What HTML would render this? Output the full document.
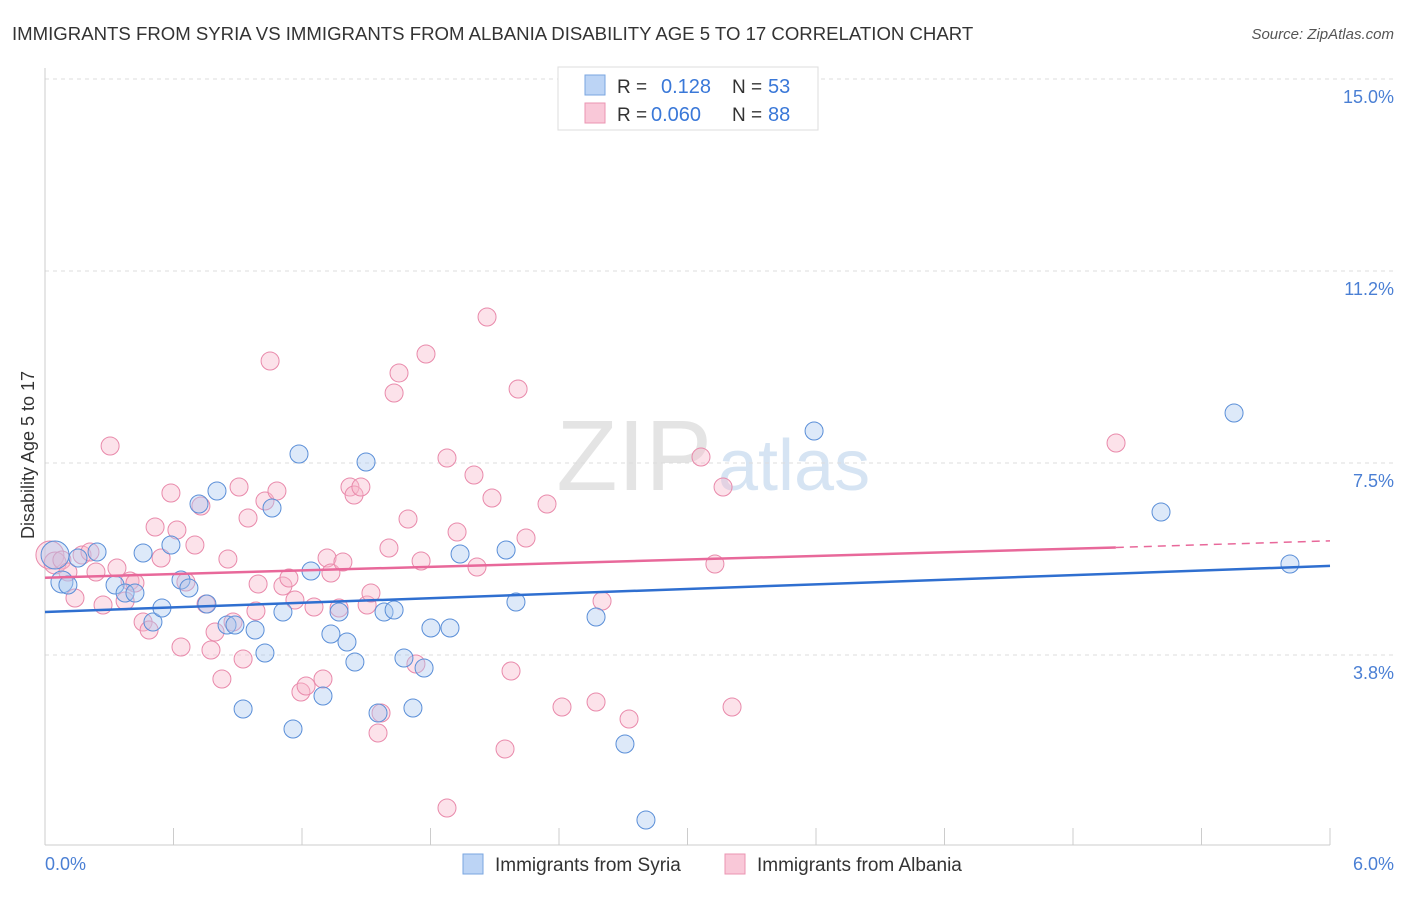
<!DOCTYPE html>
<html><head><meta charset="utf-8"><style>
body{margin:0;background:#fff;font-family:"Liberation Sans",sans-serif;}
svg text{font-family:"Liberation Sans",sans-serif;}
</style></head><body>
<svg id="chart" width="1406" height="892">
<text x="12" y="40" font-size="18.6" fill="#333">IMMIGRANTS FROM SYRIA VS IMMIGRANTS FROM ALBANIA DISABILITY AGE 5 TO 17 CORRELATION CHART</text>
<text x="1394" y="39" font-size="15" fill="#555" font-style="italic" text-anchor="end">Source: ZipAtlas.com</text>
<text x="712" y="490" font-size="100" fill="#e4e4e4" font-family="Liberation Serif" text-anchor="end">ZIP</text>
<text x="718" y="490" font-size="72" fill="#d6e4f3">atlas</text>
<g id="grid"></g>
<text transform="translate(34,455) rotate(-90)" font-size="18" fill="#333" text-anchor="middle">Disability Age 5 to 17</text>
<text x="45" y="870" font-size="18" fill="#4a7fd4">0.0%</text>
<text x="1394" y="870" font-size="18" fill="#4a7fd4" text-anchor="end">6.0%</text>
<g id="marks"></g>
<g>
<rect x="558" y="67" width="260" height="63" fill="#fff" stroke="#ddd"/>
<rect x="585" y="75" width="20" height="20" fill="#bcd4f5" stroke="#7aa6e0"/>
<rect x="585" y="103" width="20" height="20" fill="#f9c8d8" stroke="#eb94b2"/>
<text x="617" y="93" font-size="19" fill="#333">R =</text>
<text x="661" y="93" font-size="20" fill="#3a78d8">0.128</text>
<text x="732" y="93" font-size="19" fill="#333">N =</text>
<text x="768" y="93" font-size="20" fill="#3a78d8">53</text>
<text x="617" y="121" font-size="19" fill="#333">R =</text>
<text x="651" y="121" font-size="20" fill="#3a78d8">0.060</text>
<text x="732" y="121" font-size="19" fill="#333">N =</text>
<text x="768" y="121" font-size="20" fill="#3a78d8">88</text>
</g>
<g>
<rect x="463" y="854" width="20" height="20" fill="#bcd4f5" stroke="#7aa6e0"/>
<text x="495" y="871" font-size="19" fill="#333">Immigrants from Syria</text>
<rect x="725" y="854" width="20" height="20" fill="#f9c8d8" stroke="#eb94b2"/>
<text x="757" y="871" font-size="19" fill="#333">Immigrants from Albania</text>
</g>
</svg>
<script>
const yTicks=[15.0,11.25,7.5,3.75];
const yTickLabels=["15.0%","11.2%","7.5%","3.8%"];
const xTicks=[0,0.6,1.2,1.8,2.4,3.0,3.6,4.2,4.8,5.4,6.0];
const syriaPx=[[55,555],[62,582],[68,585],[78,558],[97,552],[115,585],[125,593],[135,593],[143,553],[153,622],[162,608],[171,545],[181,580],[189,588],[199,504],[207,604],[217,491],[227,625],[235,625],[243,709],[255,630],[265,653],[272,508],[283,612],[293,729],[299,454],[311,571],[323,696],[331,634],[339,612],[347,642],[355,662],[366,462],[378,713],[384,612],[394,610],[404,658],[413,708],[424,668],[431,628],[450,628],[460,554],[506,550],[516,602],[596,617],[625,744],[646,820],[814,431],[1161,512],[1234,413],[1290,564]];
const albaniaPx=[[50,555],[55,563],[62,560],[68,572],[75,598],[82,555],[90,552],[96,572],[103,605],[110,446],[117,568],[125,601],[130,581],[135,583],[143,622],[149,630],[155,527],[161,558],[171,493],[177,530],[181,647],[186,582],[195,545],[201,506],[206,604],[211,650],[215,632],[222,679],[228,559],[233,622],[239,487],[243,659],[248,518],[256,611],[258,584],[265,501],[270,361],[277,491],[283,586],[289,578],[295,600],[301,692],[306,686],[314,607],[323,679],[327,558],[331,573],[339,608],[343,562],[350,487],[354,495],[361,487],[367,605],[371,593],[378,733],[381,713],[389,548],[394,393],[399,373],[408,519],[416,664],[421,561],[426,354],[447,458],[447,808],[457,532],[474,475],[477,567],[487,317],[492,498],[505,749],[511,671],[518,389],[526,538],[547,504],[562,707],[596,702],[602,601],[629,719],[701,457],[715,564],[723,487],[732,707],[1116,443]];
const syriaX=syriaPx.map(p=>+((p[0]-45)/1285*6).toFixed(3));
const syriaY=syriaPx.map(p=>+(15-(p[1]-79)/51.2).toFixed(3));
const albaniaX=albaniaPx.map(p=>+((p[0]-45)/1285*6).toFixed(3));
const albaniaY=albaniaPx.map(p=>+(15-(p[1]-79)/51.2).toFixed(3));
const syriaTrend=[4.59,5.49];
const albaniaTrend=[5.26,5.85,5.98];
const albaniaTrendSolidEnd=5.0;
const xS=v=>45+v/6*1285;
const yS=v=>79+(15-v)*51.2;
const NS="http://www.w3.org/2000/svg";
const grid=document.getElementById('grid'),marks=document.getElementById('marks');
function mk(tag,attrs,parent){const e=document.createElementNS(NS,tag);for(const k in attrs)e.setAttribute(k,attrs[k]);parent.appendChild(e);return e;}
yTicks.forEach((t,i)=>{
 const l=mk('line',{x1:45,x2:1394,y1:yS(t),y2:yS(t),stroke:'#ddd','stroke-dasharray':'4,4'},grid);
 
 
 const tx=mk('text',{x:1394,y:yS(t)+24,'font-size':18,fill:'#4a7fd4','text-anchor':'end'},grid);
 tx.textContent=yTickLabels[i];
 
 
});
const ax=mk('line',{x1:45,x2:45,y1:68,y2:845,stroke:'#ccc'},grid);


const bx=mk('line',{x1:45,x2:1330,y1:845,y2:845,stroke:'#ccc'},grid);


xTicks.forEach(t=>{const l=mk('line',{x1:xS(t),x2:xS(t),y1:828,y2:845,stroke:'#ccc'},grid);
 
 });
function pts(xs,ys,fill,stroke,name){xs.forEach((x,i)=>{
 const r=(i<2&&x<0.1)?(i==0?14:11):9;
 const c=mk('circle',{cx:xS(x),cy:yS(ys[i]),r:r,fill:fill,'fill-opacity':0.4,stroke:stroke,'stroke-width':1},marks);
 
 });}
pts(albaniaX,albaniaY,'#f7b6cb','#e98aab','albania-point');
pts(syriaX,syriaY,'#a9c8f0','#5b8fd8','syria-point');
const sl=mk('line',{x1:xS(0),y1:yS(syriaTrend[0]),x2:xS(6),y2:yS(syriaTrend[1]),stroke:'#2f6fd0','stroke-width':2.5},marks);


const al=mk('line',{x1:xS(0),y1:yS(albaniaTrend[0]),x2:xS(albaniaTrendSolidEnd),y2:yS(albaniaTrend[1]),stroke:'#e8689a','stroke-width':2.5},marks);


const ad=mk('line',{x1:xS(albaniaTrendSolidEnd),y1:yS(albaniaTrend[1]),x2:xS(6),y2:yS(albaniaTrend[2]),stroke:'#e8689a','stroke-width':1.5,'stroke-dasharray':'8,6'},marks);


</script>
</body></html>
